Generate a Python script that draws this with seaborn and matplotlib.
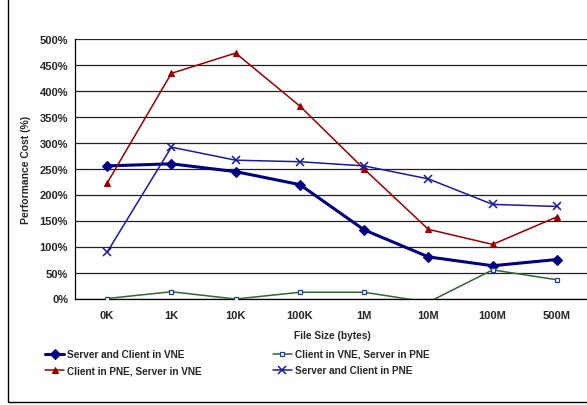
#Import Library
import numpy as np
import pandas as pd
import matplotlib
matplotlib.use("Agg")
import matplotlib.pyplot as plt
from matplotlib.patches import Rectangle
from matplotlib.ticker import FixedLocator, MultipleLocator, FuncFormatter
import seaborn as sns

#Data
file_sizes = ["0K", "1K", "10K", "100K", "1M", "10M", "100M", "500M"]
vne_vne = [255, 259, 244, 219, 132, 80, 63, 75]
vne_client_pne_server = [0, 13, -1, 12, 12, -7, 55, 36]
pne_client_vne_server = [222, 433, 472, 370, 249, 133, 104, 157]
pne_pne = [89, 291, 266, 263, 255, 230, 181, 177]

labels = ["Server and Client in VNE", "Client in VNE, Server in PNE",
          "Client in PNE, Server in VNE", "Server and Client in PNE"]

df = pd.DataFrame({"size": file_sizes * 4,
                   "cost": vne_vne + vne_client_pne_server + pne_client_vne_server + pne_pne,
                   "series": np.repeat(labels, len(file_sizes))})

sns.set_style("white")
plt.rcParams['font.family'] = ['Liberation Sans', 'DejaVu Sans']
plt.rcParams['font.weight'] = 'bold'

fig = plt.figure(figsize=(5.87, 4.06), dpi=100)
ax = fig.add_axes([75/587, (406-299.5)/406, 514/587, 260/406])

styles = {
    labels[0]: dict(color="#000080", lw=2.2, marker="D", ms=5.5, mfc="#000080", mec="#000080"),
    labels[1]: dict(color="#336633", lw=1.1, marker="s", ms=3, mfc="white", mec="#1F3F8F", mew=0.9),
    labels[2]: dict(color="#990000", lw=1.1, marker="^", ms=4, mfc="#990000", mec="#990000"),
    labels[3]: dict(color="#1A1AA0", lw=1.1, marker="x", ms=6, mfc="#1A1AA0", mec="#1A1AA0", mew=1.1),
}

for name in labels:
    s = styles[name]
    sns.lineplot(data=df[df.series == name], x="size", y="cost", ax=ax, label=name,
                 color=s["color"], linewidth=s["lw"], marker=s["marker"], markersize=s["ms"],
                 markerfacecolor=s["mfc"], markeredgecolor=s["mec"],
                 markeredgewidth=s.get("mew", 0.8), zorder=3)

#Axes
ax.set_ylim(0, 500)
ax.set_xlim(-0.5, len(file_sizes) - 0.5)
ax.yaxis.set_major_locator(MultipleLocator(50))
ax.yaxis.set_major_formatter(FuncFormatter(lambda v, p: f"{int(v)}%"))
ax.grid(axis="y", color="#222222", linewidth=0.9)
ax.set_axisbelow(True)
ax.set_xticks(range(len(file_sizes)))
ax.set_xticklabels(file_sizes)
ax.xaxis.set_minor_locator(FixedLocator(np.arange(-0.5, len(file_sizes), 1)))
ax.tick_params(axis="x", which="major", length=0, pad=8.5, labelsize=8)
ax.tick_params(axis="x", which="minor", length=4, width=0.9, color="black", direction="out")
ax.tick_params(axis="y", length=3, width=0.9, color="black", direction="out", labelsize=8, pad=2)
for side in ["top", "right"]:
    ax.spines[side].set_visible(False)
for side in ["left", "bottom"]:
    ax.spines[side].set_color("black")
    ax.spines[side].set_linewidth(0.9)

ax.set_xlabel("File Size (bytes)", fontsize=7.3, fontweight="bold", labelpad=7)
ax.set_ylabel("Performance Cost (%)", fontsize=7.5, fontweight="bold", labelpad=6)

#Legend
handles, names = ax.get_legend_handles_labels()
ax.get_legend().remove()
order = [0, 2, 1, 3]
fig.legend([handles[i] for i in order], [names[i] for i in order], ncol=2,
           loc="upper left", bbox_to_anchor=(45/587, 1 - 350/406), frameon=False,
           fontsize=7.2, handlelength=1.9, handletextpad=0.3, columnspacing=7.1,
           labelspacing=0.62, borderaxespad=0, borderpad=0)

#Outer frame
fig.patches.append(Rectangle((8/587, 3/406), 2, 2, transform=fig.transFigure,
                             fill=False, edgecolor="black", linewidth=1.0))

plt.savefig("out.png", dpi=100)
